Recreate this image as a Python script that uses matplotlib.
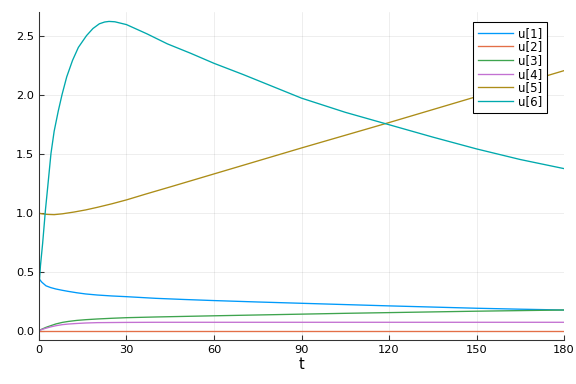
import matplotlib.pyplot as plt
import numpy as np

# --- data ---
t_u6 = [0, 0.5, 1.25, 2.2, 3, 4.1, 5.2, 6.6, 7.9, 9.5, 11.5, 13.5, 16.3, 18.5, 20.7, 22.5, 24, 26, 30,
        37, 44, 52, 60, 70, 84, 90, 105, 120, 135, 150, 165, 180]
u6 = [0.37, 0.55, 0.74, 1.02, 1.22, 1.50, 1.69, 1.86, 2.00, 2.15, 2.29, 2.40, 2.50, 2.56, 2.60, 2.615, 2.62,
      2.617, 2.593, 2.515, 2.43, 2.35, 2.265, 2.17, 2.03, 1.97, 1.85, 1.745, 1.64, 1.54, 1.45, 1.373]

t_u5 = [0, 1, 2, 3, 5.2, 8, 12, 16, 20, 25, 30, 36.7, 45, 60, 75, 90, 120, 150, 180]
u5 = [0.995, 0.99, 0.987, 0.985, 0.983, 0.99, 1.005, 1.023, 1.045, 1.075, 1.108, 1.158, 1.218, 1.328,
      1.438, 1.548, 1.763, 1.983, 2.203]

t_slow = [0, 1, 2.4, 4, 5.8, 8, 10, 13, 16, 20, 25, 30, 40, 50, 60, 75, 90, 105, 120, 135, 150, 165, 180]
u1 = [0.44, 0.41, 0.38, 0.365, 0.353, 0.342, 0.333, 0.321, 0.311, 0.302, 0.294, 0.288, 0.274, 0.264, 0.255,
      0.243, 0.232, 0.221, 0.21, 0.2, 0.19, 0.182, 0.175]
u2 = [0.0] * 23
u3 = [0.0, 0.013, 0.028, 0.042, 0.057, 0.07, 0.078, 0.087, 0.093, 0.099, 0.105, 0.11, 0.116, 0.121, 0.126,
      0.133, 0.14, 0.147, 0.153, 0.159, 0.165, 0.17, 0.175]
u4 = [0.0, 0.01, 0.021, 0.032, 0.042, 0.051, 0.056, 0.061, 0.065, 0.068, 0.069, 0.07, 0.071, 0.071, 0.071,
      0.071, 0.071, 0.071, 0.071, 0.071, 0.071, 0.071, 0.071]

colors = ['#009AFA', '#E36F47', '#3EA44E', '#C371D2', '#AC8D18', '#00A9AD']
labels = ['u[1]', 'u[2]', 'u[3]', 'u[4]', 'u[5]', 'u[6]']

fig = plt.figure(figsize=(6, 4), dpi=96)
ax = fig.add_axes([0.0677, 0.1146, 0.9115, 0.8542])

series = [(t_slow, u1), (t_slow, u2), (t_slow, u3), (t_slow, u4), (t_u5, u5), (t_u6, u6)]
for (tt, uu), c, lab in zip(series, colors, labels):
    ax.plot(tt, uu, color=c, lw=1.0, label=lab)

ax.set_xlim(0, 180)
ax.set_ylim(-0.079, 2.70)
ax.set_xticks([0, 30, 60, 90, 120, 150, 180])
ax.set_yticks([0.0, 0.5, 1.0, 1.5, 2.0, 2.5])
ax.set_yticklabels(['0.0', '0.5', '1.0', '1.5', '2.0', '2.5'])
ax.set_xlabel('t', fontsize=11, labelpad=2)

ax.grid(True, color='black', alpha=0.1, lw=0.5)
for s in ['top', 'right']:
    ax.spines[s].set_visible(False)
for s in ['left', 'bottom']:
    ax.spines[s].set_color('#333333')
ax.tick_params(direction='in', length=4, labelsize=8.5, color='#333333')

leg = ax.legend(loc='upper right', bbox_to_anchor=(0.9676, 0.9695), borderaxespad=0, fontsize=8.8,
                fancybox=False, framealpha=1, edgecolor='black', handlelength=3.0, labelspacing=0.06,
                borderpad=0.4, handletextpad=0.43)
leg.get_frame().set_linewidth(0.8)

fig.savefig('out.png', dpi=96)
